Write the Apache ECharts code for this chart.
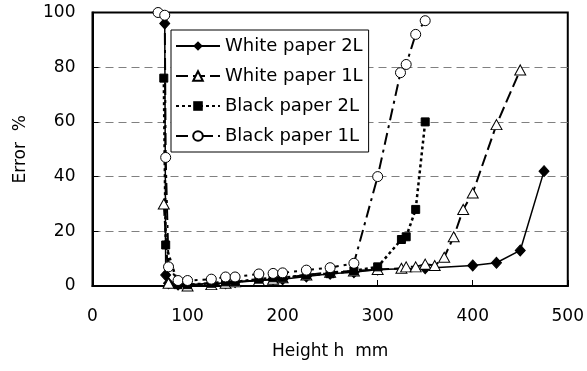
<!DOCTYPE html>
<html>
<head>
<meta charset="utf-8">
<script src="https://cdn.jsdelivr.net/npm/echarts@6/dist/echarts.min.js"></script>
<style>html,body{margin:0;padding:0;background:#fff;}#c{width:587px;height:371px;}</style>
</head>
<body>
<div id="c"></div>
<script>
const seriesNames = ['White paper 2L', 'White paper 1L', 'Black paper 2L', 'Black paper 1L'];
const xTicks = [0, 100, 200, 300, 400, 500];
const yTicks = [0, 20, 40, 60, 80, 100];

const wp2H = [76, 77, 80, 90, 100, 125, 140, 150, 175, 190, 200, 225, 250, 275, 300, 350, 400, 425, 450, 475];
const wp2E = [96, 4, 1, 0.5, 0.5, 1, 1, 1.5, 2, 2.5, 2.5, 3.5, 4.5, 5, 6, 6.5, 7.5, 8.5, 13, 42];

const wp1H = [75, 80, 100, 125, 140, 150, 175, 190, 200, 225, 250, 275, 300, 325, 330, 340, 350, 360, 370, 380, 390, 400, 425, 450];
const wp1E = [30, 1, 0, 0.5, 1, 1.5, 2, 2.5, 3, 4, 5, 5.5, 6, 6.5, 7, 7, 8, 7.5, 10.5, 18, 28, 34, 59, 79];

const bp2H = [75, 77, 90, 100, 125, 140, 150, 175, 190, 200, 225, 250, 275, 300, 325, 330, 340, 350];
const bp2E = [76, 15, 0.5, 0.5, 1, 1.5, 1.5, 2.5, 3, 3, 4, 4.5, 5.5, 7, 17, 18, 28, 60];

const bp1H = [69, 76, 77, 80, 90, 100, 125, 140, 150, 175, 190, 200, 225, 250, 275, 300, 324, 330, 340, 350];
const bp1E = [100, 99, 47, 7, 2, 2, 2.5, 3.3, 3.3, 4.4, 4.6, 4.8, 5.8, 6.7, 8.3, 40, 78, 81, 92, 97];

const pairs = (xs, ys) => xs.map((x, i) => [x, ys[i]]);
const FONT = 'DejaVu Sans';

const chart = echarts.init(document.getElementById('c'), null, {renderer: 'canvas'});
chart.setOption({
  animation: false,
  backgroundColor: '#fff',
  grid: {left: 92.5, right: 19, top: 12.5, bottom: 85, show: true, borderColor: '#000', borderWidth: 2, backgroundColor: 'transparent'},
  legend: {
    orient: 'vertical', left: 171, top: 30,
    data: seriesNames,
    backgroundColor: '#fff', borderColor: '#000', borderWidth: 1,
    padding: [7, 6, 7, 4], itemGap: 12, itemWidth: 44, itemHeight: 12,
    textStyle: {fontFamily: FONT, fontSize: 18, color: '#000', lineHeight: 17}
  },
  xAxis: {
    type: 'value', min: xTicks[0], max: xTicks[xTicks.length - 1], interval: 100,
    name: 'Height h  mm', nameLocation: 'middle', nameGap: 57,
    nameTextStyle: {fontFamily: FONT, fontSize: 17, color: '#000'},
    axisLine: {show: true, lineStyle: {color: '#000', width: 2}},
    axisTick: {show: true, inside: true, length: 6, lineStyle: {color: '#000', width: 1}},
    axisLabel: {fontFamily: FONT, fontSize: 17, color: '#000', margin: 22},
    splitLine: {show: false}
  },
  yAxis: {
    type: 'value', min: yTicks[0], max: yTicks[yTicks.length - 1], interval: 20,
    name: 'Error  %', nameLocation: 'middle', nameGap: 63, nameRotate: 90,
    nameTextStyle: {fontFamily: FONT, fontSize: 17, color: '#000'},
    axisLine: {show: true, lineStyle: {color: '#000', width: 2}},
    axisTick: {show: true, inside: true, length: 6, lineStyle: {color: '#000', width: 1}},
    axisLabel: {fontFamily: FONT, fontSize: 17, color: '#000', margin: 17},
    splitLine: {show: true, lineStyle: {color: ['transparent', '#808080', '#808080', '#808080', '#808080', 'transparent'], type: [8, 5], width: 1}}
  },
  series: [
    {
      name: seriesNames[0], type: 'line', data: pairs(wp2H, wp2E), clip: false,
      symbol: 'diamond', symbolSize: [10, 11],
      itemStyle: {color: '#000', borderColor: '#000'},
      lineStyle: {color: '#000', width: 1.5, type: 'solid'}
    },
    {
      name: seriesNames[1], type: 'line', data: pairs(wp1H, wp1E), clip: false,
      symbol: 'triangle', symbolSize: [11, 10],
      itemStyle: {color: '#fff', borderColor: '#000', borderWidth: 1},
      lineStyle: {color: '#000', width: 2, type: [12, 5]}
    },
    {
      name: seriesNames[2], type: 'line', data: pairs(bp2H, bp2E), clip: false,
      symbol: 'rect', symbolSize: 8,
      itemStyle: {color: '#000', borderColor: '#000'},
      lineStyle: {color: '#000', width: 2.5, type: [3, 3]}
    },
    {
      name: seriesNames[3], type: 'line', data: pairs(bp1H, bp1E), clip: false,
      symbol: 'circle', symbolSize: 10,
      itemStyle: {color: '#fff', borderColor: '#000', borderWidth: 1},
      lineStyle: {color: '#000', width: 2, type: [12, 5, 3, 5]}
    }
  ]
});
</script>
</body>
</html>
